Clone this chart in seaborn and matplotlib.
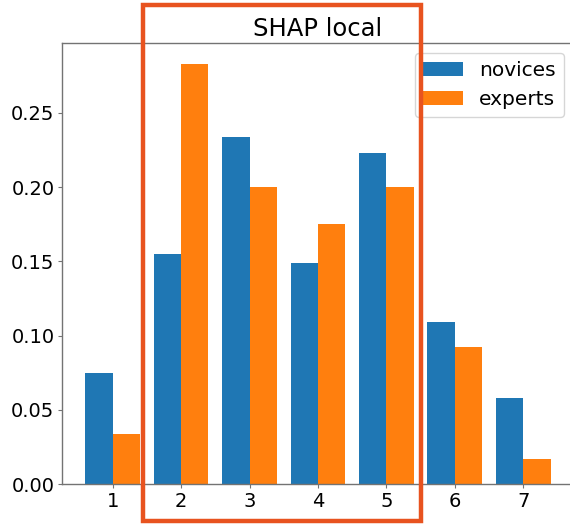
import pandas as pd
import matplotlib
matplotlib.use("Agg")
import matplotlib.pyplot as plt
import seaborn as sns
from matplotlib.patches import Rectangle

# Values
features = ["1", "2", "3", "4", "5", "6", "7"]
novices = [0.075, 0.155, 0.234, 0.149, 0.223, 0.109, 0.058]
experts = [0.034, 0.283, 0.200, 0.175, 0.200, 0.092, 0.017]
groups = ["novices", "experts"]
colors = ["#1f77b4", "#ff7f0e"]

df = pd.DataFrame({
    "feature": features * 2,
    "value": novices + experts,
    "group": [groups[0]] * len(features) + [groups[1]] * len(features),
})

plt.rcParams["font.family"] = ["DejaVu Sans"]

fig = plt.figure(figsize=(5.7, 5.24), dpi=100)
ax = fig.add_axes([0.1088, 0.0763, 0.898, 0.8417])

sns.barplot(data=df, x="feature", y="value", hue="group", order=features,
            hue_order=groups, palette=colors, saturation=1, width=0.8,
            linewidth=0, errorbar=None, ax=ax)

ax.set_xlim(-0.74, len(features) - 1 + 0.74)
ax.set_ylim(0, max(novices + experts) * 1.05)
ax.set_xlabel("")
ax.set_ylabel("")
ax.set_title("SHAP local", fontsize=17.5, pad=5)
ax.tick_params(labelsize=14, color="0.45", length=3, pad=2.5)
ax.set_yticks([0, 0.05, 0.10, 0.15, 0.20, 0.25])
ax.set_yticklabels(["0.00", "0.05", "0.10", "0.15", "0.20", "0.25"])
for s in ax.spines.values():
    s.set_color("0.45")
    s.set_linewidth(1)

ax.legend(loc="upper right", fontsize=14.5, frameon=True)

# highlight box around features 2-5, drawn outside the axes too
x0 = features.index("2") - 0.55
x1 = features.index("5") + 0.51
rect = Rectangle((x0, -0.025), x1 - x0, 0.3478, fill=False,
                 edgecolor="#e8531f", linewidth=3.2, clip_on=False, zorder=10)
ax.add_patch(rect)

fig.savefig("out.png", dpi=100)
